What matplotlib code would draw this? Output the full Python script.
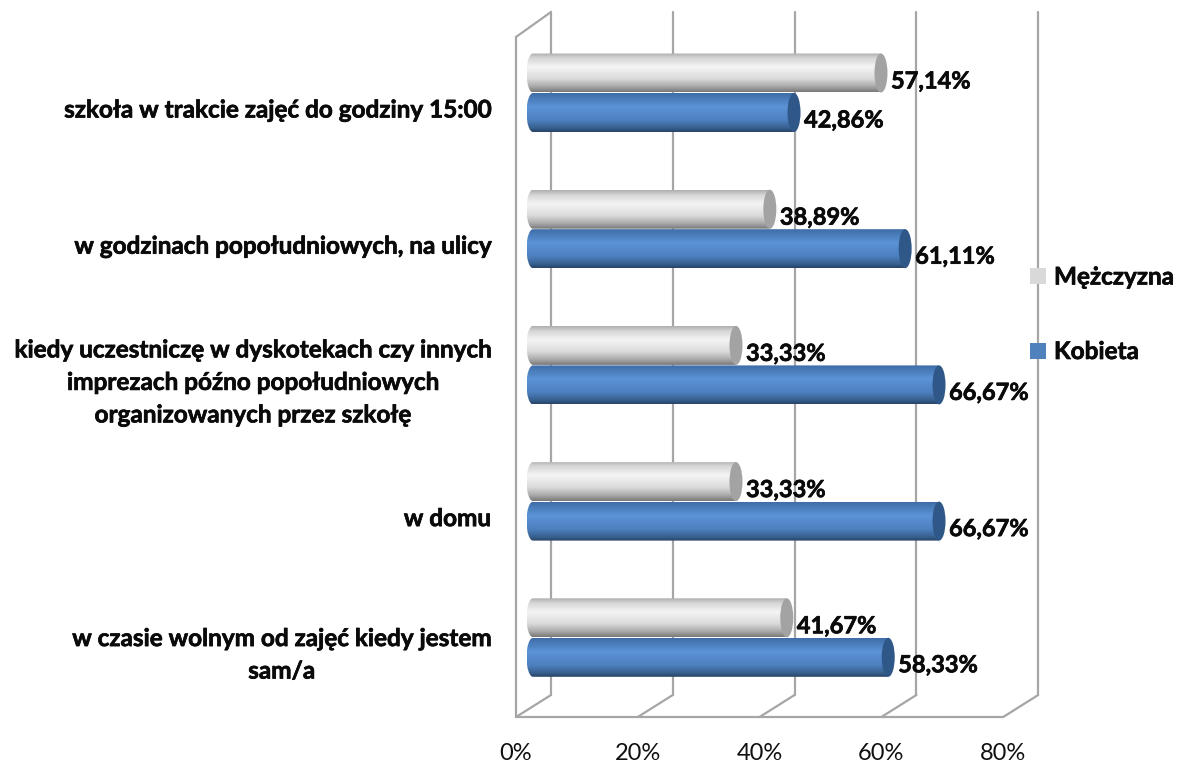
import numpy as np
import matplotlib
matplotlib.use("Agg")
import matplotlib.pyplot as plt
import matplotlib.patheffects as pe
from matplotlib.colors import LinearSegmentedColormap
from matplotlib.patches import Ellipse, PathPatch, Rectangle
from matplotlib.path import Path

categories = [
    "szkoła w trakcie zajęć do godziny 15:00",
    "w godzinach popołudniowych, na ulicy",
    "kiedy uczestniczę w dyskotekach czy innych\nimprezach późno popołudniowych\norganizowanych przez szkołę",
    "w domu",
    "w czasie wolnym od zajęć kiedy jestem\nsam/a",
]
mezczyzna = [57.14, 38.89, 33.33, 33.33, 41.67]
kobieta = [42.86, 61.11, 66.67, 66.67, 58.33]
ticks = [0, 20, 40, 60, 80]

W, H = 1181, 765
PX = 6.09        # pixels per percent
X0 = 533         # pixel of 0% for the bars
Y0 = 93          # pixel of first group centre
DY = 136.2       # pixels between groups
FRONT = -17      # front plane offset from bar plane (px)
BACK = 18        # back plane offset (px)

plt.rcParams["font.family"] = ["Lato", "DejaVu Sans"]

fig = plt.figure(figsize=(W / 100, H / 100), dpi=100)
ax = fig.add_axes([0, 0, 1, 1])
ax.axis("off")
xlim = (-X0 / PX, (W - X0) / PX)
ylim = ((H - Y0) / DY, -Y0 / DY)
bold = dict(fontweight="bold", color="#0a0a0a",
            path_effects=[pe.withStroke(linewidth=0.5, foreground="#0a0a0a")])


def dx(px):
    return px / PX


def dy(px):
    return px / DY


grey_cm = LinearSegmentedColormap.from_list("g", [(0, "#b0b0b0"), (0.12, "#d6d6d6"), (0.35, "#f4f4f4"),
                                                  (0.65, "#dcdcdc"), (0.85, "#adadad"), (1, "#7a7a7a")])
blue_cm = LinearSegmentedColormap.from_list("b", [(0, "#3f6ea8"), (0.35, "#5b93d6"), (0.7, "#4d80bf"),
                                                  (0.9, "#38608f"), (1, "#274468")])
grad = np.linspace(0, 1, 64).reshape(-1, 1)

# frame and gridlines
grid = dict(color="#a6a6a6", lw=1.6, zorder=1, solid_capstyle="round")
top_b, bot_b = dy(12 - Y0), dy(695 - Y0)
top_f, bot_f = dy(37 - Y0), dy(717 - Y0)
for t in ticks:
    ax.plot([t + dx(BACK), t + dx(BACK)], [top_b, bot_b], **grid)
    ax.plot([t + dx(FRONT), t + dx(BACK)], [bot_f, bot_b], **grid)
    ax.text(t + dx(FRONT), dy(753 - Y0), f"{t}%", ha="center", va="center", fontsize=17, color="#111111")
ax.plot([dx(FRONT)] * 2, [top_f, bot_f], **grid)
ax.plot([dx(FRONT), dx(BACK)], [top_f, top_b], **grid)
ax.plot([dx(FRONT), ticks[-1] + dx(FRONT)], [bot_f, bot_f], **grid)


def bar(val, yc, cm, cap):
    h = dy(39)
    rx = dx(6.5)
    y0, y1 = yc - h / 2, yc + h / 2
    k = 0.5523
    verts = [(0, y0), (val, y0), (val, y1), (0, y1),
             (-rx * k, y1), (-rx, yc + h / 2 * k), (-rx, yc),
             (-rx, yc - h / 2 * k), (-rx * k, y0), (0, y0)]
    codes = [Path.MOVETO, Path.LINETO, Path.LINETO, Path.LINETO,
             Path.CURVE4, Path.CURVE4, Path.CURVE4, Path.CURVE4, Path.CURVE4, Path.CURVE4]
    clip = PathPatch(Path(verts, codes), fc="none", ec="none", transform=ax.transData)
    ax.add_patch(clip)
    im = ax.imshow(grad, cmap=cm, aspect="auto", extent=(-rx, val, y1, y0), zorder=2, origin="upper")
    im.set_clip_path(clip)
    ax.add_patch(Ellipse((val, yc), 2 * rx, h, fc=cap, ec="none", zorder=3))


for i, cat in enumerate(categories):
    bar(mezczyzna[i], i - dy(20), grey_cm, "#a3a3a3")
    bar(kobieta[i], i + dy(19.5), blue_cm, "#2f5788")
    ax.text(mezczyzna[i] + dx(10), i - dy(12), f"{mezczyzna[i]:.2f}%".replace(".", ","),
            ha="left", va="center", fontsize=17, zorder=4, **bold)
    ax.text(kobieta[i] + dx(10), i + dy(27), f"{kobieta[i]:.2f}%".replace(".", ","),
            ha="left", va="center", fontsize=17, zorder=4, **bold)
    ax.text(dx(491 - X0), i + dy(17), cat, ha="right", va="center", multialignment="center",
            fontsize=17.5, linespacing=1.5, **bold)

# legend
for name, col, y in [("Mężczyzna", "#d9d9d9", 276), ("Kobieta", "#4f81bd", 350.5)]:
    ax.add_patch(Rectangle((dx(1030 - X0), dy(y - 8 - Y0)), dx(16), dy(16), fc=col, ec="none", zorder=4))
    ax.text(dx(1054 - X0), dy(y + 1 - Y0), name, ha="left", va="center", fontsize=17.5, **bold)

ax.set_xlim(xlim)
ax.set_ylim(ylim)
fig.savefig("out.png", dpi=100, facecolor="white")
